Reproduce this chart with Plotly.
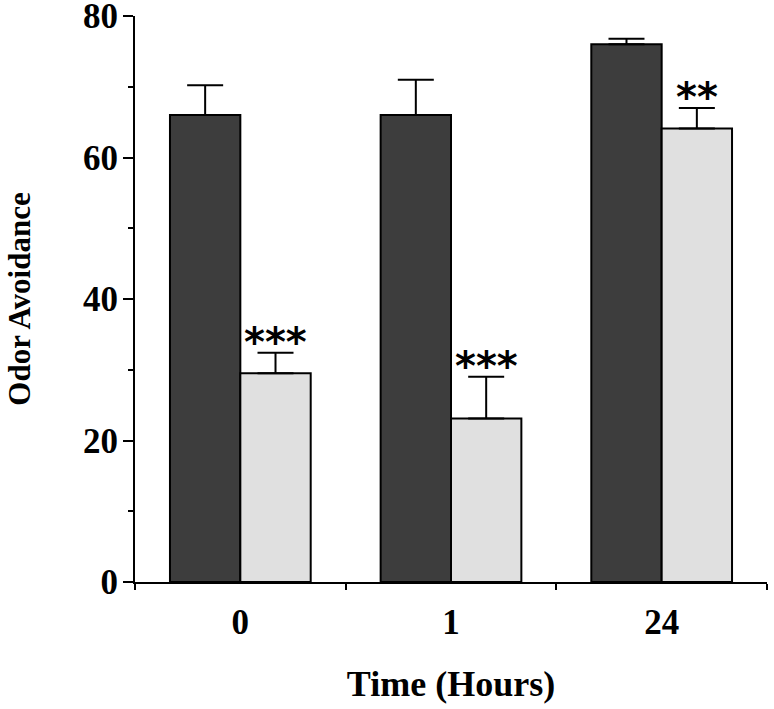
import plotly.graph_objects as go

categories = ["0", "1", "24"]
control_vals = [66.0, 66.0, 76.0]
control_err = [4.2, 5.0, 0.8]
treated_vals = [29.5, 23.1, 64.1]
treated_err = [2.9, 5.9, 2.9]
sig_labels = ["***", "***", "**"]
y_ticks = [0, 20, 40, 60, 80]

fig = go.Figure()
fig.add_trace(go.Bar(
    x=categories, y=control_vals,
    marker=dict(color="#3d3d3d", line=dict(color="black", width=2)),
    error_y=dict(type="data", array=control_err, arrayminus=[0]*3, symmetric=False,
                 color="black", thickness=2, width=18),
    showlegend=False,
))
fig.add_trace(go.Bar(
    x=categories, y=treated_vals,
    marker=dict(color="#e0e0e0", line=dict(color="black", width=2)),
    error_y=dict(type="data", array=treated_err, arrayminus=[0]*3, symmetric=False,
                 color="black", thickness=2, width=18),
    showlegend=False,
))

for i, (v, e, s) in enumerate(zip(treated_vals, treated_err, sig_labels)):
    fig.add_annotation(x=i + 0.167, y=v + e, xref="x", yref="y", text=f"<b>{s}</b>",
                       showarrow=False, yanchor="bottom", yshift=-14,
                       font=dict(family="DejaVu Sans", size=40, color="black"))

fig.update_layout(
    width=774, height=709,
    margin=dict(l=135, r=7, t=16, b=127),
    plot_bgcolor="white", paper_bgcolor="white",
    barmode="group", bargap=0.332, bargroupgap=0,
    font=dict(family="Liberation Serif", color="black"),
    xaxis=dict(
        type="category", range=[-0.5, 2.5], automargin=False,
        showline=True, linecolor="black", linewidth=2,
        ticks="outside", tickson="boundaries", ticklen=6, tickwidth=2, tickcolor="black",
        tickfont=dict(family="Liberation Serif", size=35, color="black"),
        ticklabelstandoff=8,
        showgrid=False, zeroline=False,
        title=dict(text="<b>Time (Hours)</b>", standoff=30,
                   font=dict(family="Liberation Serif", size=36, color="black")),
    ),
    yaxis=dict(
        range=[0, 80], tickvals=y_ticks, automargin=False, ticklabeloverflow="allow",
        ticktext=[f"<b>{t}</b>" for t in y_ticks],
        showline=True, linecolor="black", linewidth=2,
        ticks="outside", ticklen=10, tickwidth=2, tickcolor="black",
        minor=dict(dtick=10, ticks="outside", ticklen=5, tickwidth=2, tickcolor="black"),
        tickfont=dict(family="Liberation Serif", size=35, color="black"),
        ticklabelstandoff=-2,
        showgrid=False, zeroline=False,
        title=dict(text="<b>Odor Avoidance</b>", standoff=43,
                   font=dict(family="Liberation Serif", size=31, color="black")),
    ),
)
fig.update_xaxes(ticktext=[f"<b>{c}</b>" for c in categories], tickvals=categories)

fig.write_html("out.html", config={"displayModeBar": False},
               post_script="document.body.style.margin='0';")
